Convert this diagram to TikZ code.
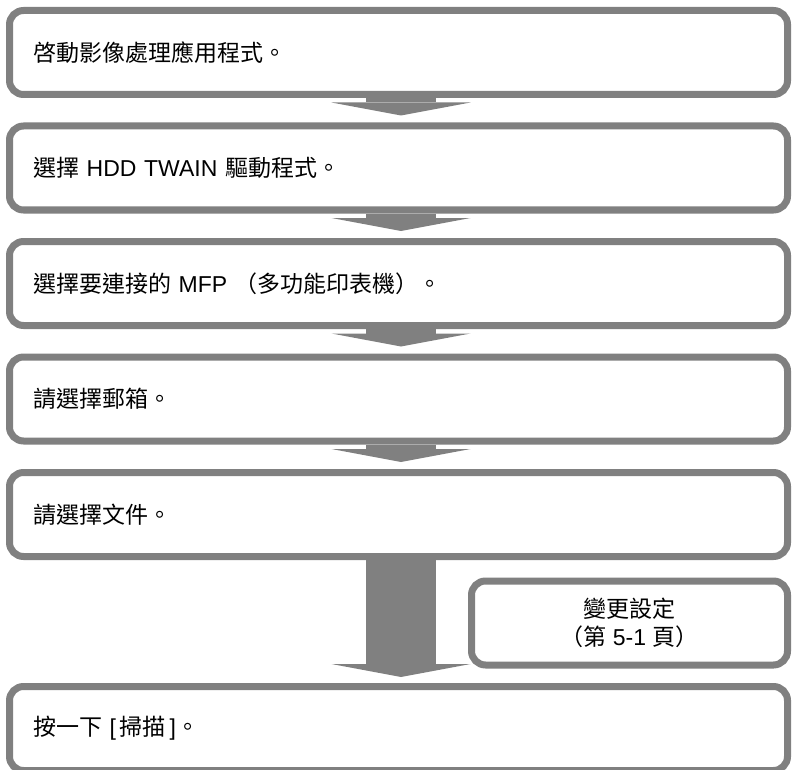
\documentclass[tikz,border=0pt]{standalone}
\usepackage{fontspec}
\setmainfont{Liberation Sans}
\newfontfamily\cjk{Noto Sans CJK TC}
\usepackage{tikz}
\usetikzlibrary{arrows.meta, positioning}
\usepackage{xcolor}
\definecolor{frameGray}{RGB}{128,128,128}

\begin{document}
\begin{tikzpicture}[
    x=1pt, y=1pt,
    node distance=24.5pt,
    stepbox/.style={rectangle, rounded corners=14pt, draw=frameGray, line width=7pt, fill=white, minimum height=84pt, text width=731pt, inner xsep=23.5pt, align=left, font=\fontsize{23}{28}\selectfont},
    notebox/.style={rectangle, rounded corners=14pt, draw=frameGray, line width=7pt, fill=white, minimum width=316pt, minimum height=84pt, align=center, font=\fontsize{23}{28}\selectfont},
    flow/.style={-{Triangle[width=139pt, length=13pt, line width=0pt]}, line width=70pt, draw=frameGray, shorten >=7pt}
]
\useasboundingbox (0,0) rectangle (792,-770);

% Steps
\node[stepbox] (launch) at (398.5,-52.5) {{\cjk 啓動影像處理應用程式。}};
\node[stepbox, below=of launch] (driver) {{\cjk 選擇} HDD TWAIN {\cjk 驅動程式。}};
\node[stepbox, below=of driver] (mfp) {{\cjk 選擇要連接的} MFP {\cjk （多功能印表機）。}};
\node[stepbox, below=of mfp] (mailbox) {{\cjk 請選擇郵箱。}};
\node[stepbox, below=of mailbox] (document) {{\cjk 請選擇文件。}};
\node[stepbox, below=123pt of document] (scan) {{\cjk 按一下} [\,{\cjk 掃描}\,]{\cjk 。}};

% Side note
\node[notebox, below=17.5pt of document.south east, anchor=north east] (settings) {{\cjk 變更設定}\\{\cjk （第} 5-1 {\cjk 頁）}};

% Arrows
\draw[flow] ([xshift=2.5pt]launch.south) -- ([xshift=2.5pt]driver.north);
\draw[flow] ([xshift=2.5pt]driver.south) -- ([xshift=2.5pt]mfp.north);
\draw[flow] ([xshift=2.5pt]mfp.south) -- ([xshift=2.5pt]mailbox.north);
\draw[flow] ([xshift=2.5pt]mailbox.south) -- ([xshift=2.5pt]document.north);
\draw[flow, shorten >=6pt] ([xshift=2.5pt]document.south) -- ([xshift=2.5pt]scan.north);

\end{tikzpicture}
\end{document}
